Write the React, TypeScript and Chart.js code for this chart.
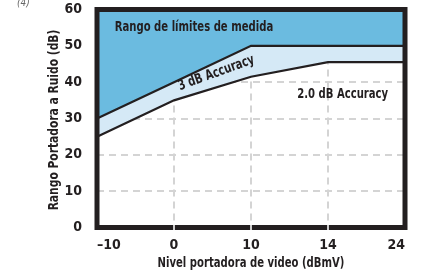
import React, { useEffect, useRef } from "react";
import { Chart, registerables } from "chart.js";

Chart.register(...registerables);

const xLabels = ["–10", "0", "10", "14", "24"];
const upperLimit = [30, 40, 50, 50, 50];
const lowerLimit = [25, 35, 41.5, 45.5, 45.5];
const yMin = 0;
const yMax = 60;
const yStep = 10;

const xTitle = "Nivel portadora de video (dBmV)";
const yTitle = "Rango Portadora a Ruido (dB)";
const noteLabel = "(4)";
const annotations = [
  { text: "Rango de límites de medida", xi: 0.23, y: 55, align: "left", angle: 0 },
  { text: "3 dB Accuracy", xi: 1.55, y: 42.5, align: "center", angle: -20 },
  { text: "2.0 dB Accuracy", xi: 3.19, y: 36.6, align: "center", angle: 0 },
];

const FONT = "'DejaVu Sans Condensed', 'DejaVu Sans', sans-serif";
const INK = "#231F20";
const MID_BLUE = "#6BBBE0";
const LIGHT_BLUE = "#D5E9F6";
const GRID = "#d4d4d4";
const SQUEEZE = 0.8;

function drawText(ctx: CanvasRenderingContext2D, text: string, x: number, y: number, align: string, angleDeg: number, squeeze = SQUEEZE) {
  ctx.save();
  ctx.translate(x, y);
  ctx.rotate((angleDeg * Math.PI) / 180);
  ctx.scale(squeeze, 1);
  ctx.textAlign = align as CanvasTextAlign;
  ctx.textBaseline = "middle";
  ctx.fillText(text, 0, 0);
  ctx.restore();
}

const framePlugin = {
  id: "frame",
  afterDatasetsDraw(chart: any) {
    const { ctx, chartArea: a, scales } = chart;
    const xs = scales.x;
    const ys = scales.y;
    ctx.save();
    ctx.fillStyle = INK;
    ctx.font = `bold 14px ${FONT}`;
    for (const an of annotations) {
      drawText(ctx, an.text, xs.getPixelForValue(an.xi), ys.getPixelForValue(an.y), an.align, an.angle);
    }
    // axis titles
    drawText(ctx, xTitle, (a.left + a.right) / 2, 263, "center", 0);
    drawText(ctx, yTitle, 54, (a.top + a.bottom) / 2 + 1.5, "center", -90, 0.85);
    // frame
    ctx.lineWidth = 5;
    ctx.strokeStyle = INK;
    ctx.strokeRect(a.left, a.top, a.right - a.left, a.bottom - a.top);
    // notches in bottom frame
    ctx.strokeStyle = "#cfcfcf";
    ctx.lineWidth = 2;
    for (let i = 1; i < xLabels.length - 1; i++) {
      const x = xs.getPixelForValue(i);
      ctx.beginPath();
      ctx.moveTo(x, a.bottom - 2.5);
      ctx.lineTo(x, a.bottom + 2.5);
      ctx.stroke();
    }
    // note label
    ctx.fillStyle = "#666";
    ctx.font = `italic 10px ${FONT}`;
    ctx.textAlign = "left";
    ctx.textBaseline = "alphabetic";
    ctx.fillText(noteLabel, 17, 6);
    ctx.restore();
  },
};

export default function App() {
  const ref = useRef<HTMLCanvasElement | null>(null);
  useEffect(() => {
    document.body.style.margin = "0";
    const canvas = ref.current;
    if (!canvas) return;
    const chart = new Chart(canvas, {
      type: "line",
      data: {
        labels: xLabels,
        datasets: [
          {
            data: upperLimit,
            borderColor: INK,
            borderWidth: 2.2,
            backgroundColor: MID_BLUE,
            fill: "end",
            pointRadius: 0,
            tension: 0,
          },
          {
            data: lowerLimit,
            borderColor: INK,
            borderWidth: 2.2,
            backgroundColor: LIGHT_BLUE,
            fill: "-1",
            pointRadius: 0,
            tension: 0,
          },
        ],
      },
      options: {
        animation: false,
        responsive: false,
        events: [],
        layout: { padding: { left: 0, top: 9.5, right: 16, bottom: 0 } },
        plugins: { legend: { display: false }, tooltip: { enabled: false } },
        scales: {
          x: {
            type: "category",
            offset: false,
            afterFit: (s: any) => {
              s.height = 46.5;
              s.paddingLeft = 0;
              s.paddingRight = 0;
            },
            grid: { color: GRID, lineWidth: 2, drawTicks: false },
            border: { display: false, dash: [7, 5] },
            ticks: {
              align: "inner",
              padding: 9,
              color: INK,
              font: { family: FONT, size: 14, weight: "bold" },
              maxRotation: 0,
            },
          },
          y: {
            min: yMin,
            max: yMax,
            afterFit: (s: any) => {
              s.width = 97;
              s.paddingTop = 0;
              s.paddingBottom = 0;
            },
            grid: { color: GRID, lineWidth: 2, drawTicks: false },
            border: { display: false, dash: [7, 5] },
            ticks: {
              stepSize: yStep,
              padding: 15,
              color: INK,
              font: { family: FONT, size: 14, weight: "bold" },
            },
          },
        },
      },
      plugins: [framePlugin],
    } as any);
    return () => chart.destroy();
  }, []);
  return (
    <div style={{ width: 421, height: 274, background: "#fff" }}>
      <canvas ref={ref} width={421} height={274} />
    </div>
  );
}
